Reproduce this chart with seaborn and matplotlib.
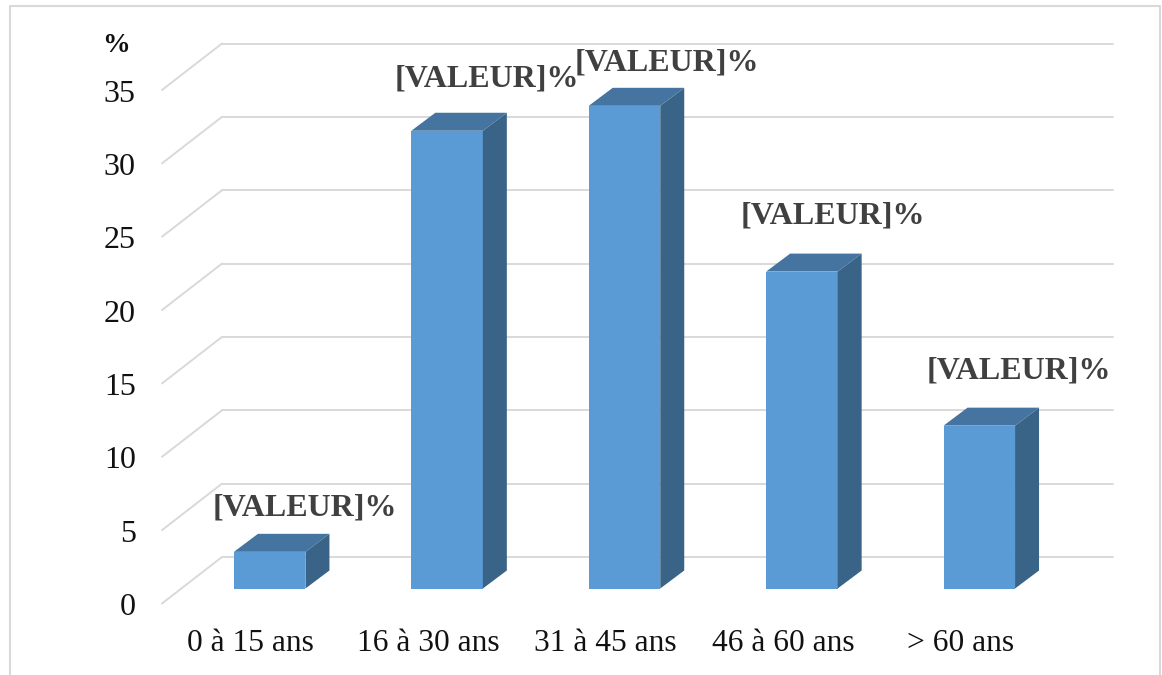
import matplotlib
matplotlib.use("Agg")
import matplotlib.pyplot as plt
import matplotlib.transforms as mtrans
from matplotlib.patches import Polygon
import pandas as pd
import seaborn as sns

categories = ["0 à 15 ans", "16 à 30 ans", "31 à 45 ans", "46 à 60 ans", "> 60 ans"]
values = [2.5, 31.2, 32.9, 21.6, 11.1]
y_ticks = [0, 5, 10, 15, 20, 25, 30, 35]
label_text = "[VALEUR]%"
label_offsets_px = [(35, 44), (40, 52), (42, 43), (31, 56), (40, 55)]

W, H = 1162, 675
sns.set_theme(style="white")
plt.rcParams["font.family"] = ["Liberation Serif", "DejaVu Serif"]

FACE, SIDE, TOP = "#5B9BD5", "#3A6487", "#44749F"
GRID = "#D9D9D9"
BOTTOM_PX, TOP_PX, LEFT_PX, RIGHT_PX = 588.5, 75.0, 181.0, 1068.0
BACK = (41, 31.5)
FRONT = (-19, -15)
DEPTH = (24, 18)

fig = plt.figure(figsize=(W / 100, H / 100), dpi=100, facecolor="white")
ax = fig.add_axes([LEFT_PX / W, 1 - BOTTOM_PX / H,
                   (RIGHT_PX - LEFT_PX) / W, (BOTTOM_PX - TOP_PX) / H])
df = pd.DataFrame({"age": categories, "pct": values})
sns.barplot(data=df, x="age", y="pct", color=FACE, saturation=1, width=0.403,
            ax=ax, zorder=3, linewidth=0)
ax.set_xlim(-0.5, 4.5)
ax.set_ylim(0, 35)
ax.set_xlabel("")
ax.set_ylabel("")
for s in ax.spines.values():
    s.set_visible(False)
ax.patch.set_alpha(0)

shift = lambda d: ax.transData + mtrans.Affine2D().translate(*d)

# back wall gridlines and floor/side wall diagonals
line_kw = dict(color=GRID, lw=1.4, clip_on=False, zorder=1)
for t in y_ticks:
    ax.plot([-0.5, 4.52], [t, t], transform=shift(BACK), **line_kw)
    p0 = shift(FRONT).transform((-0.5, t))
    p1 = shift(BACK).transform((-0.5, t))
    ax.plot([p0[0], p1[0]], [p0[1], p1[1]], transform=None, **line_kw)

# 3-D faces of the bars, derived from the seaborn bars
for bar in ax.patches[:len(values)]:
    (x0, y0), (x1, y1) = ax.transData.transform(
        [(bar.get_x(), 0), (bar.get_x() + bar.get_width(), bar.get_height())])
    dx, dy = DEPTH
    ax.add_patch(Polygon([(x1, y0), (x1 + dx, y0 + dy), (x1 + dx, y1 + dy), (x1, y1)],
                         closed=True, fc=SIDE, ec="none", transform=None, zorder=3, clip_on=False))
    ax.add_patch(Polygon([(x0, y1), (x0 + dx, y1 + dy), (x1 + dx, y1 + dy), (x1, y1)],
                         closed=True, fc=TOP, ec="none", transform=None, zorder=3, clip_on=False))

# data labels
for i, (v, off) in enumerate(zip(values, label_offsets_px)):
    ax.annotate(label_text, xy=(i, v), xycoords="data",
                xytext=(off[0] * 0.72, off[1] * 0.72), textcoords="offset points",
                ha="center", va="center", fontsize=23, fontweight="bold",
                color="#404040", zorder=5, annotation_clip=False)

# axes labels
ax.set_yticks(y_ticks)
ax.tick_params(axis="y", length=0, pad=32.5, labelsize=23, labelcolor="#111111")
ax.tick_params(axis="x", length=0, pad=29, labelsize=22.7, labelcolor="#111111")
for lab in ax.get_yticklabels():
    lab.set_transform(lab.get_transform() + mtrans.Affine2D().translate(0, -15.5))
for lab in ax.get_xticklabels():
    lab.set_transform(lab.get_transform() + mtrans.Affine2D().translate(-19, 0))

fig.text(116 / W, 1 - 45 / H, "%", ha="center", va="center",
         fontsize=20, fontweight="bold", color="#111111")

# outer chart frame (open at the bottom)
frame_kw = dict(color=GRID, lw=1.5, transform=fig.transFigure)
fig.add_artist(plt.Line2D([9.5 / W, 9.5 / W, 1160 / W, 1160 / W],
                          [0, 1 - 6 / H, 1 - 6 / H, 0], **frame_kw))

fig.savefig("out.png", dpi=100)
